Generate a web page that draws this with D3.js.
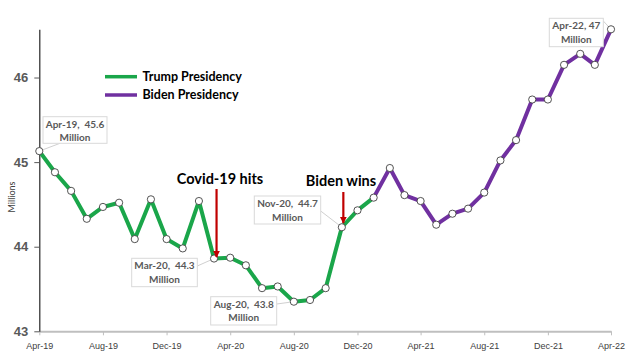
<!DOCTYPE html>
<html><head><meta charset="utf-8">
<script src="https://cdn.jsdelivr.net/npm/d3@7"></script>
<style>body{margin:0;background:#fff}svg{display:block;font-family:Lato,"Open Sans",sans-serif}</style>
</head><body><svg id="c" width="640" height="355"></svg>
<script>
const months = d3.range(37).map(i => new Date(2019, 3 + i, 1));
const values = [45.13,44.88,44.66,44.33,44.47,44.52,44.09,44.56,44.09,43.98,44.54,43.86,
  43.87,43.78,43.51,43.53,43.35,43.37,43.51,44.23,44.43,44.58,
  44.93,44.61,44.54,44.26,44.39,44.45,44.64,45.02,45.26,45.74,45.74,46.15,46.28,46.15,46.57];
const trumpEnd = 21; // Jan-21 index: Trump series is 0..21, Biden 21..36
const seriesNames = ["Trump Presidency","Biden Presidency"];
const seriesColors = ["#1aa64a","#7030a0"];
const yTicks = [43,44,45,46];
const xTickLabels = ["Apr-19","Aug-19","Dec-19","Apr-20","Aug-20","Dec-20","Apr-21","Aug-21","Dec-21","Apr-22"];
const dataLabels = [
  {i:0, l1:"Apr-19,  45.6", l2:"Million"},
  {i:11, l1:"Mar-20,  44.3", l2:"Million"},
  {i:16, l1:"Aug-20,  43.8", l2:"Million"},
  {i:19, l1:"Nov-20,  44.7", l2:"Million"},
  {i:36, l1:"Apr-22, 47", l2:"Million"}
];
const events = [{i:11, text:"Covid-19 hits"},{i:19, text:"Biden wins"}];

const svg = d3.select("#c");
const x = d3.scaleTime().domain([months[0], months[36]]).range([39.3, 611]);
const y = d3.scaleLinear().domain([43, 46.57]).range([331.3, 29.3]);

// x axis
const xAxis = svg.append("g").attr("transform","translate(0,331.3)")
  .call(d3.axisBottom(x).tickValues(d3.range(0,37,4).map(i=>months[i])).tickFormat((d,k)=>xTickLabels[k]).tickSize(4).tickSizeOuter(0));
xAxis.select(".domain").attr("stroke","#bfbfbf").attr("stroke-width",2);
xAxis.selectAll(".tick line").attr("stroke","#bfbfbf");
xAxis.selectAll("text").attr("fill","#404040").attr("font-size",9).attr("dy","1.15em");

// y axis
const yAxis = svg.append("g").attr("transform","translate(39.3,0)")
  .call(d3.axisLeft(y).tickValues(yTicks).tickFormat(d3.format("d")).tickSize(5).tickSizeOuter(0));
yAxis.select(".domain").attr("stroke","#262626").attr("stroke-width",1.2);
yAxis.selectAll(".tick line").attr("stroke","#595959");
yAxis.selectAll("text").attr("fill","#595959").attr("font-size",13).attr("font-weight","bold").attr("x",-11);

svg.append("text").attr("transform","translate(15,197) rotate(-90)").attr("text-anchor","middle")
  .attr("font-size",9).attr("fill","#404040").text("Millions");

// lines
const line = d3.line().x(d=>x(months[d])).y(d=>y(values[d]));
const segs = [d3.range(0,trumpEnd+1), d3.range(trumpEnd,37)];
segs.forEach((s,k)=>{
  svg.append("path").attr("d",line(s)).attr("fill","none").attr("stroke",seriesColors[k])
    .attr("stroke-width",4).attr("stroke-linejoin","round");
});

// label leaders and boxes
const boxes = [
  {x0:43,y0:116.7,w:64,h:26.6, lx:60,ly:143.3},
  {x0:131.7,y0:258.3,w:65.6,h:28.4, lx:197.3,ly:266},
  {x0:210.7,y0:296.7,w:66,h:28.3, lx:276.7,ly:304},
  {x0:254.3,y0:196,w:66.4,h:28, lx:320.7,ly:211},
  {x0:549.3,y0:18.3,w:54,h:28.4, lx:603.3,ly:21}
];
dataLabels.forEach((d,k)=>{
  const b = boxes[k];
  svg.append("line").attr("x1",b.lx).attr("y1",b.ly).attr("x2",x(months[d.i])).attr("y2",y(values[d.i]))
    .attr("stroke","#d0d0d0").attr("stroke-width",1);
  svg.append("rect").attr("x",b.x0).attr("y",b.y0).attr("width",b.w).attr("height",b.h)
    .attr("fill","#fff").attr("stroke","#d9d9d9");
  const t = svg.append("text").attr("text-anchor","middle").attr("font-size",10).attr("font-weight","bold")
    .attr("fill","#595959").attr("xml:space","preserve").style("white-space","pre");
  t.append("tspan").attr("x",b.x0+b.w/2).attr("y",b.y0+11).text(d.l1);
  t.append("tspan").attr("x",b.x0+b.w/2).attr("y",b.y0+24.5).text(d.l2);
});

// points
svg.selectAll("circle.pt").data(values).join("circle").attr("class","pt")
  .attr("cx",(d,i)=>x(months[i])).attr("cy",d=>y(d)).attr("r",3.6)
  .attr("fill","#fff").attr("stroke","#404040").attr("stroke-width",0.9);

// events
const defs = svg.append("defs");
defs.append("marker").attr("id","ah").attr("viewBox","0 0 10 10").attr("refX",9).attr("refY",5)
  .attr("markerWidth",3.2).attr("markerHeight",3.2).attr("orient","auto")
  .append("path").attr("d","M0,0L10,5L0,10Z").attr("fill","#c00000");
const evGeom = [{tx:220,ty:188,top:189,tip:257},{tx:341,ty:190,top:192,tip:223}];
events.forEach((e,k)=>{
  const g = evGeom[k];
  const ax = x(months[e.i]) + (k===0?2.5:1.5);
  svg.append("text").attr("x",g.tx).attr("y",g.ty-4).attr("text-anchor","middle").attr("font-size",14.5)
    .attr("font-weight","bold").attr("fill","#000").text(e.text);
  svg.append("line").attr("x1",ax).attr("y1",g.top).attr("x2",ax).attr("y2",g.tip)
    .attr("stroke","#c00000").attr("stroke-width",2.2).attr("marker-end","url(#ah)");
});

// legend
seriesNames.forEach((n,k)=>{
  const ly = 76.7 + k*18.3;
  svg.append("line").attr("x1",105).attr("x2",137).attr("y1",ly).attr("y2",ly)
    .attr("stroke",seriesColors[k]).attr("stroke-width",3.5);
  svg.append("text").attr("x",142.5).attr("y",ly+4.3).attr("font-size",12.5).attr("font-weight","bold")
    .attr("fill","#000").text(n);
});
</script></body></html>
